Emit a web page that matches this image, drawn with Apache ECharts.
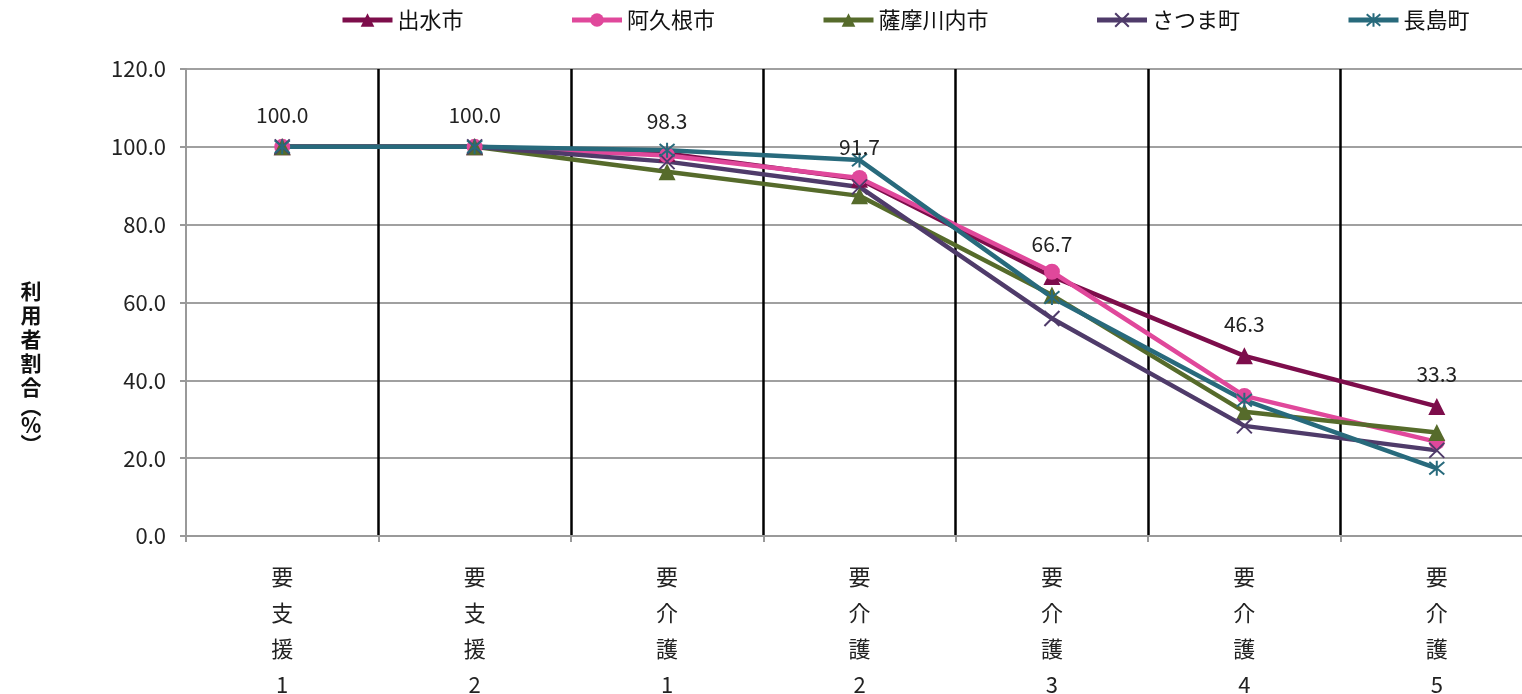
<!DOCTYPE html>
<html>
<head>
<meta charset="utf-8">
<script src="https://cdn.jsdelivr.net/npm/echarts@6/dist/echarts.min.js"></script>
<style>
  html, body { margin: 0; padding: 0; background: #fff; }
  #chart { width: 1522px; height: 694px; }
</style>
</head>
<body>
<div id="chart"></div>
<script>
// 区分
var categories = ['要支援1', '要支援2', '要介護1', '要介護2', '要介護3', '要介護4', '要介護5'];
// 利用者割合（%）
var izumi = [100.0, 100.0, 98.3, 91.7, 66.7, 46.3, 33.3];
var akune = [100.0, 100.0, 97.8, 92.0, 67.9, 36.0, 24.2];
var satsumasendai = [100.0, 100.0, 93.6, 87.4, 61.9, 31.9, 26.6];
var satsuma = [100.0, 100.0, 96.2, 89.7, 55.9, 28.3, 22.0];
var nagashima = [100.0, 100.0, 99.1, 96.6, 61.3, 34.9, 17.4];
var yTicks = [0, 20, 40, 60, 80, 100, 120];

var FONT = "'Noto Sans CJK JP', 'Noto Sans', sans-serif";
var crossPath = 'path://M0,0L10,10M10,0L0,10';
var starPath = 'path://M0,0L10,10M10,0L0,10M5,-1L5,11';

function lineSeries(name, data, color, symbol, size, stroke) {
  return {
    name: name,
    type: 'line',
    data: data,
    symbol: symbol,
    symbolSize: size,
    lineStyle: { color: color, width: 4.5 },
    itemStyle: stroke ? { color: 'none', borderColor: color, borderWidth: 2 } : { color: color },
    emphasis: { disabled: true },
    z: 3
  };
}

var myChart = echarts.init(document.getElementById('chart'));
var series = [
  lineSeries('出水市', izumi, '#7d0d4b', 'triangle', 17, false),
  lineSeries('阿久根市', akune, '#e0489b', 'circle', 16, false),
  lineSeries('薩摩川内市', satsumasendai, '#566b2b', 'triangle', 17, false),
  lineSeries('さつま町', satsuma, '#4f3b6a', crossPath, 15, true),
  lineSeries('長島町', nagashima, '#286a7c', starPath, 15, true)
];
series[0].label = {
  show: true, position: 'top', distance: 13,
  fontFamily: FONT, fontSize: 21, color: '#222',
  formatter: function (p) { return p.value.toFixed(1); }
};

var option = {
  backgroundColor: '#fff',
  animation: false,
  textStyle: { fontFamily: FONT },
  legend: {
    top: 4, left: 335,
    itemWidth: 50, itemHeight: 17, itemGap: 106,
    lineStyle: { width: 5 },
    textStyle: { fontFamily: FONT, fontSize: 22, color: '#111' },
    data: ['出水市', '阿久根市', '薩摩川内市', 'さつま町', '長島町']
  },
  graphic: [{
    type: 'text', left: 19, top: 281,
    style: {
      text: '{c|利}\n{c|用}\n{c|者}\n{c|割}\n{c|合}\n{p|︵}\n{c|%}\n{p|︶}',
      rich: {
        c: { fontFamily: FONT, fontSize: 21, fontWeight: 'bold', fill: '#111', lineHeight: 24, align: 'center', width: 24 },
        p: { fontFamily: FONT, fontSize: 21, fontWeight: 'bold', fill: '#111', lineHeight: 14, align: 'center', width: 24 }
      }
    }
  }],
  grid: { left: 186, top: 69, width: 1347, bottom: 158, outerBoundsMode: 'none', containLabel: false },
  xAxis: {
    type: 'category',
    data: categories,
    boundaryGap: true,
    axisLine: { lineStyle: { color: '#999', width: 2 } },
    axisTick: { show: true, length: 6, lineStyle: { color: '#999', width: 2 } },
    axisLabel: {
      margin: 23, fontFamily: FONT, fontSize: 22, color: '#222', lineHeight: 36,
      formatter: function (v) { return v.split('').join('\n'); }
    },
    splitLine: { show: true, showMinLine: false, showMaxLine: false, lineStyle: { color: '#000', width: 2.5 } }
  },
  yAxis: {
    type: 'value',
    min: yTicks[0], max: yTicks[yTicks.length - 1], interval: 20,
    axisLine: { show: true, lineStyle: { color: '#999', width: 2 } },
    axisTick: { show: true, length: 6, lineStyle: { color: '#999', width: 2 } },
    axisLabel: {
      margin: 20, fontFamily: FONT, fontSize: 22, color: '#222',
      formatter: function (v) { return v.toFixed(1); }
    },
    splitLine: { show: true, lineStyle: { color: '#a0a0a0', width: 2 } }
  },
  series: series
};
myChart.setOption(option);
</script>
</body>
</html>
